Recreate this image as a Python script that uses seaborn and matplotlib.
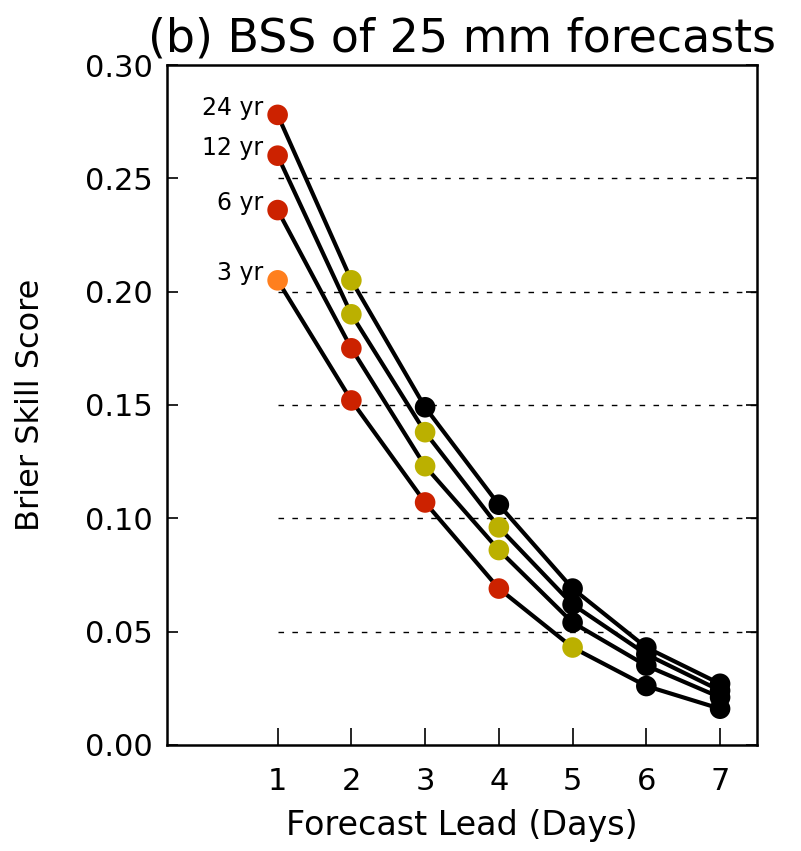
import numpy as np
import pandas as pd
import matplotlib.pyplot as plt
import seaborn as sns

# ========== data ==========
days = [1, 2, 3, 4, 5, 6, 7]
bss_24yr = [0.278, 0.205, 0.149, 0.106, 0.069, 0.043, 0.027]
bss_12yr = [0.260, 0.190, 0.138, 0.096, 0.062, 0.040, 0.024]
bss_6yr  = [0.236, 0.175, 0.123, 0.086, 0.054, 0.035, 0.021]
bss_3yr  = [0.205, 0.152, 0.107, 0.069, 0.043, 0.026, 0.016]

# dot colour class for each point
cls_24yr = ['red', 'yellow', 'black', 'black', 'black', 'black', 'black']
cls_12yr = ['red', 'yellow', 'yellow', 'yellow', 'black', 'black', 'black']
cls_6yr  = ['red', 'red', 'yellow', 'yellow', 'black', 'black', 'black']
cls_3yr  = ['orange', 'red', 'red', 'red', 'yellow', 'black', 'black']

series_names = ['24 yr', '12 yr', '6 yr', '3 yr']
yticks = [0.00, 0.05, 0.10, 0.15, 0.20, 0.25, 0.30]
grid_levels = [0.05, 0.10, 0.15, 0.20, 0.25]

palette = {'red': '#CC2200', 'orange': '#FF7F1E',
           'yellow': '#BBB000', 'black': 'black'}

frames = []
for name, vals, cls in zip(series_names,
                           [bss_24yr, bss_12yr, bss_6yr, bss_3yr],
                           [cls_24yr, cls_12yr, cls_6yr, cls_3yr]):
    frames.append(pd.DataFrame({'day': days, 'bss': vals,
                                'cls': cls, 'series': name}))
df = pd.concat(frames, ignore_index=True)

# ========== plot ==========
sns.set_style("ticks")
plt.rcParams['font.family'] = ['DejaVu Sans']
plt.rcParams.update({'xtick.direction': 'in', 'ytick.direction': 'in',
                     'text.color': 'black', 'axes.labelcolor': 'black',
                     'xtick.color': 'black', 'ytick.color': 'black',
                     'axes.edgecolor': 'black'})

fig = plt.figure(figsize=(8.01, 8.51), dpi=100)
ax = fig.add_axes([0.2085, 0.1246, 0.7365, 0.799])

ax.hlines(grid_levels, 1, 7.5, colors='black', linewidth=1.0,
          linestyles=(0, (4, 6)), zorder=1)

sns.lineplot(data=df, x='day', y='bss', units='series', estimator=None,
             color='black', linewidth=3.0, ax=ax, zorder=2, legend=False)
sns.scatterplot(data=df, x='day', y='bss', hue='cls', palette=palette,
                s=220, edgecolor='none', ax=ax, zorder=3, legend=False)

for name, vals in zip(series_names, [bss_24yr, bss_12yr, bss_6yr, bss_3yr]):
    ax.text(0.8, vals[0] + 0.0032, name, ha='right', va='center',
            fontsize=17, color='black')

ax.set_xlim(-0.5, 7.5)
ax.set_ylim(0, 0.30)
ax.set_xticks(days)
ax.set_yticks(yticks)
ax.set_yticklabels([f"{t:.2f}" for t in yticks])
ax.tick_params(axis='x', length=12, width=1.2, pad=16, labelsize=22,
               top=False)
ax.tick_params(axis='y', length=8, width=1.2, pad=10, labelsize=22,
               right=True)
for sp in ax.spines.values():
    sp.set_linewidth(1.8)

ax.set_xlabel("Forecast Lead (Days)", fontsize=24, labelpad=9)
ax.set_ylabel("Brier Skill Score", fontsize=23, labelpad=28)
ax.set_title("(b) BSS of 25 mm forecasts", fontsize=33, pad=10)

plt.savefig("out.png", dpi=100)
plt.close()
